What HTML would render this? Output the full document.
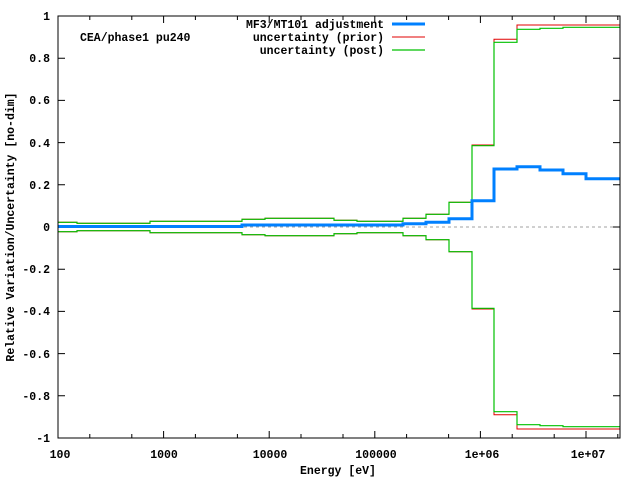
<!DOCTYPE html>
<html><head><meta charset="utf-8"><style>
html,body{margin:0;padding:0;background:#fff;}
svg{display:block;}
text{font-family:"Liberation Mono",monospace;font-size:11.5px;font-weight:bold;fill:#000;}
</style></head><body>
<svg width="640" height="480" viewBox="0 0 640 480" xmlns="http://www.w3.org/2000/svg">
<rect width="640" height="480" fill="#fff"/>
<line x1="58" y1="227" x2="620" y2="227" stroke="#a0a0a0" stroke-width="1" stroke-dasharray="3,3"/>
<g stroke="#000" stroke-width="1" id="ticks">
<!-- y major ticks -->
<path d="M58,16h7M58,58.2h7M58,100.4h7M58,142.6h7M58,184.8h7M58,227h7M58,269.2h7M58,311.4h7M58,353.6h7M58,395.8h7M58,438h7
M620,16h-7M620,58.2h-7M620,100.4h-7M620,142.6h-7M620,184.8h-7M620,227h-7M620,269.2h-7M620,311.4h-7M620,353.6h-7M620,395.8h-7M620,438h-7"/>
<!-- x major -->
<path d="M163.6,438v-7M269.2,438v-7M374.8,438v-7M480.4,438v-7M586,438v-7
M163.6,16v7M269.2,16v7M374.8,16v7M480.4,16v7M586,16v7"/>
<!-- x minor at 2 and 5 -->
<path d="M89.8,438v-4M131.8,438v-4M195.4,438v-4M237.4,438v-4M301,438v-4M343,438v-4M406.6,438v-4M448.6,438v-4M512.2,438v-4M554.2,438v-4M617.8,438v-4
M89.8,16v4M131.8,16v4M195.4,16v4M237.4,16v4M301,16v4M343,16v4M406.6,16v4M448.6,16v4M512.2,16v4M554.2,16v4M617.8,16v4"/>
</g>
<!-- red prior -->
<path d="M58,222.3H77V223.3H150V221.3H242V219.3H265V218.3H334V220.3H357V221.3H403V218.3H426V214.3H449V202.3H472V145H494V39.3H517V25H620" fill="none" stroke="#e00000" stroke-width="1"/>
<path d="M58,231.7H77V230.7H150V232.7H242V234.7H265V235.7H334V233.7H357V232.7H403V235.7H426V239.7H449V251.7H472V309H494V414.7H517V429H620" fill="none" stroke="#e00000" stroke-width="1"/>
<!-- green post -->
<path d="M58,222.3H77V223.3H150V221.3H242V219.3H265V218.3H334V220.3H357V221.3H403V218.3H426V214.3H449V202.3H472V145.7H494V42.3H517V29.3H540V28.3H563V27.3H620" fill="none" stroke="#00c000" stroke-width="1.2"/>
<path d="M58,231.7H77V230.7H150V232.7H242V234.7H265V235.7H334V233.7H357V232.7H403V235.7H426V239.7H449V251.7H472V308.3H494V411.7H517V424.7H540V425.7H563V426.7H620" fill="none" stroke="#00c000" stroke-width="1.2"/>
<!-- blue adjustment -->
<path d="M58,226.5H242V225H403V223.7H426V222.3H449V218.7H472V200.7H494V169H517V166.7H540V170H563V173.7H586V178.7H620" fill="none" stroke="#0080ff" stroke-width="3"/>
<rect x="58" y="16" width="562" height="422" fill="none" stroke="#000" stroke-width="1"/>
<!-- y labels -->
<g text-anchor="end">
<text x="50" y="20">1</text>
<text x="50" y="62">0.8</text>
<text x="50" y="104">0.6</text>
<text x="50" y="147">0.4</text>
<text x="50" y="189">0.2</text>
<text x="50" y="231">0</text>
<text x="50" y="273">-0.2</text>
<text x="50" y="315">-0.4</text>
<text x="50" y="358">-0.6</text>
<text x="50" y="400">-0.8</text>
<text x="50" y="442">-1</text>
</g>
<g text-anchor="middle">
<text x="60" y="458">100</text>
<text x="164" y="458">1000</text>
<text x="270" y="458">10000</text>
<text x="376" y="458">100000</text>
<text x="482" y="458">1e+06</text>
<text x="588" y="458">1e+07</text>
<text x="338" y="474">Energy [eV]</text>
<text x="0" y="0" transform="translate(14,227) rotate(-90)">Relative Variation/Uncertainty [no-dim]</text>
</g>
<text x="80" y="41">CEA/phase1 pu240</text>
<g text-anchor="end">
<text x="384" y="28">MF3/MT101 adjustment</text>
<text x="384" y="41">uncertainty (prior)</text>
<text x="384" y="54">uncertainty (post)</text>
</g>
<line x1="392" y1="24" x2="425" y2="24" stroke="#0080ff" stroke-width="3"/>
<line x1="392" y1="37" x2="425" y2="37" stroke="#e00000" stroke-width="1"/>
<line x1="392" y1="50" x2="425" y2="50" stroke="#00c000" stroke-width="1.2"/>
</svg>
</body></html>
